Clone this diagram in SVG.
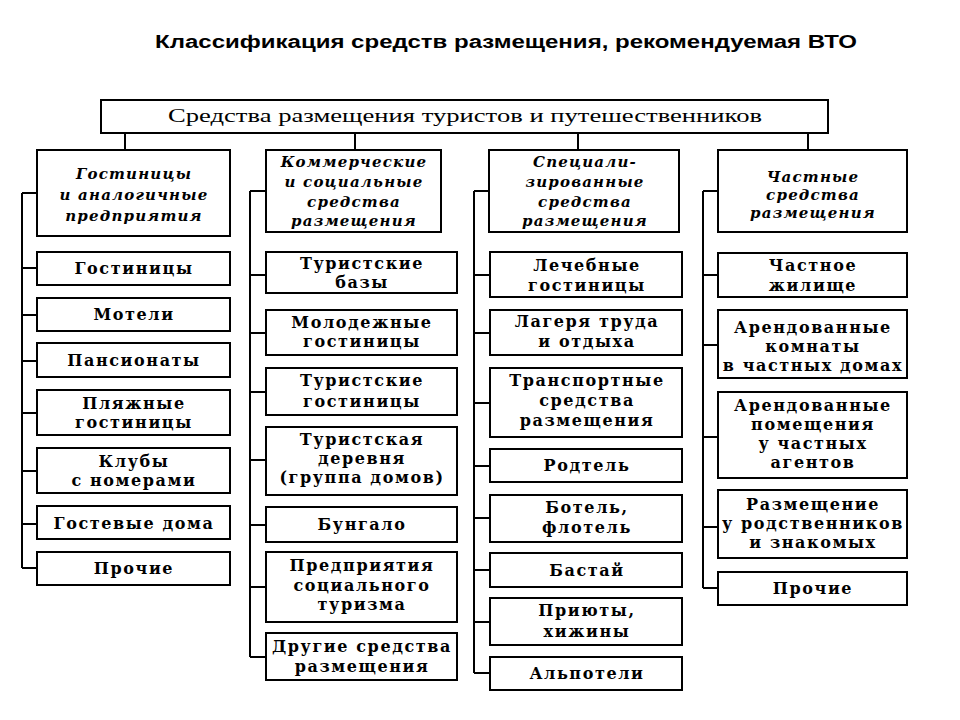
<svg xmlns="http://www.w3.org/2000/svg" width="960" height="720" viewBox="0 0 960 720">
<style>
.bx{fill:#fff;stroke:#000;stroke-width:2}
.ln{stroke:#000;stroke-width:2;fill:none}
.ttl{font-family:"Liberation Sans",Arial,sans-serif;font-weight:bold;font-size:18px;fill:#000}
.top{font-family:"Liberation Serif","Times New Roman",serif;font-size:18px;fill:#000;text-anchor:middle}
.cat{font-family:"DejaVu Serif",serif;font-style:italic;font-weight:bold;font-size:15px;letter-spacing:1.2px;fill:#000;text-anchor:middle}
.it{font-family:"DejaVu Serif",serif;font-weight:bold;font-size:16px;letter-spacing:1.6px;fill:#000;text-anchor:middle}
</style>
<rect width="960" height="720" fill="#fff"/>
<text class="ttl" x="155" y="48" textLength="702" lengthAdjust="spacingAndGlyphs">Классификация средств размещения, рекомендуемая ВТО</text>

<g id="connectors">
<path class="ln" d="M125 133V150M355 133V150M578 133V150M808 133V150"/>
<path class="ln" d="M22 193V568M22 193H37M22 268H37M22 315H37M22 361H37M22 413H37M22 471H37M22 524H37M22 568H37"/>
<path class="ln" d="M250 191V657M250 191H266M250 275H266M250 333H266M250 392H266M250 460H266M250 525H266M250 587H266M250 657H266"/>
<path class="ln" d="M474 191V673M474 191H489M474 275H490M474 333H490M474 403H490M474 466H490M474 518H490M474 570H490M474 622H490M474 673H490"/>
<path class="ln" d="M703 191V588M703 191H718M703 275H718M703 345H718M703 437H718M703 527H718M703 588H718"/>
</g>

<g id="root"><rect class="bx" x="101" y="100" width="727" height="33"/><text class="top" x="465" y="122" textLength="594" lengthAdjust="spacingAndGlyphs">Средства размещения туристов и путешественников</text></g>

<g id="cat1"><rect class="bx" x="37" y="150" width="193" height="86"/><text class="cat"><tspan x="134" y="179">Гостиницы</tspan><tspan x="134" y="200">и аналогичные</tspan><tspan x="134" y="221">предприятия</tspan></text></g>
<g id="cat2"><rect class="bx" x="266" y="150" width="175" height="82"/><text class="cat"><tspan x="354" y="167">Коммерческие</tspan><tspan x="354" y="187">и социальные</tspan><tspan x="354" y="207">средства</tspan><tspan x="354" y="226">размещения</tspan></text></g>
<g id="cat3"><rect class="bx" x="489" y="150" width="190" height="82"/><text class="cat"><tspan x="585" y="167">Специали-</tspan><tspan x="585" y="187">зированные</tspan><tspan x="585" y="207">средства</tspan><tspan x="585" y="226">размещения</tspan></text></g>
<g id="cat4"><rect class="bx" x="718" y="150" width="189" height="82"/><text class="cat"><tspan x="813" y="182">Частные</tspan><tspan x="813" y="200">средства</tspan><tspan x="813" y="218">размещения</tspan></text></g>

<g id="c1n1"><rect class="bx" x="37" y="252" width="193" height="33"/><text class="it" x="134" y="274">Гостиницы</text></g>
<g id="c1n2"><rect class="bx" x="37" y="298" width="193" height="33"/><text class="it" x="134" y="320">Мотели</text></g>
<g id="c1n3"><rect class="bx" x="37" y="343" width="193" height="34"/><text class="it" x="134" y="366">Пансионаты</text></g>
<g id="c1n4"><rect class="bx" x="37" y="390" width="193" height="45"/><text class="it"><tspan x="134" y="409">Пляжные</tspan><tspan x="134" y="428">гостиницы</tspan></text></g>
<g id="c1n5"><rect class="bx" x="37" y="448" width="193" height="45"/><text class="it"><tspan x="134" y="467">Клубы</tspan><tspan x="134" y="486">с номерами</tspan></text></g>
<g id="c1n6"><rect class="bx" x="37" y="506" width="193" height="33"/><text class="it" x="134" y="529">Гостевые дома</text></g>
<g id="c1n7"><rect class="bx" x="37" y="552" width="193" height="33"/><text class="it" x="134" y="574">Прочие</text></g>

<g id="c2n1"><rect class="bx" x="266" y="252" width="191" height="41"/><text class="it"><tspan x="362" y="269">Туристские</tspan><tspan x="362" y="288">базы</tspan></text></g>
<g id="c2n2"><rect class="bx" x="266" y="310" width="191" height="45"/><text class="it"><tspan x="362" y="328">Молодежные</tspan><tspan x="362" y="347">гостиницы</tspan></text></g>
<g id="c2n3"><rect class="bx" x="266" y="368" width="191" height="47"/><text class="it"><tspan x="362" y="386">Туристские</tspan><tspan x="362" y="407">гостиницы</tspan></text></g>
<g id="c2n4"><rect class="bx" x="266" y="427" width="191" height="68"/><text class="it"><tspan x="362" y="445">Туристская</tspan><tspan x="362" y="464">деревня</tspan><tspan x="362" y="483">(группа домов)</tspan></text></g>
<g id="c2n5"><rect class="bx" x="266" y="507" width="191" height="35"/><text class="it" x="362" y="530">Бунгало</text></g>
<g id="c2n6"><rect class="bx" x="266" y="552" width="191" height="70"/><text class="it"><tspan x="362" y="571">Предприятия</tspan><tspan x="362" y="591">социального</tspan><tspan x="362" y="610">туризма</tspan></text></g>
<g id="c2n7"><rect class="bx" x="266" y="633" width="191" height="47"/><text class="it"><tspan x="362" y="652">Другие средства</tspan><tspan x="362" y="672">размещения</tspan></text></g>

<g id="c3n1"><rect class="bx" x="490" y="252" width="192" height="45"/><text class="it"><tspan x="587" y="271">Лечебные</tspan><tspan x="587" y="291">гостиницы</tspan></text></g>
<g id="c3n2"><rect class="bx" x="490" y="310" width="192" height="45"/><text class="it"><tspan x="587" y="327">Лагеря труда</tspan><tspan x="587" y="347">и отдыха</tspan></text></g>
<g id="c3n3"><rect class="bx" x="490" y="368" width="192" height="69"/><text class="it"><tspan x="587" y="386">Транспортные</tspan><tspan x="587" y="406">средства</tspan><tspan x="587" y="426">размещения</tspan></text></g>
<g id="c3n4"><rect class="bx" x="490" y="449" width="192" height="33"/><text class="it" x="587" y="471">Родтель</text></g>
<g id="c3n5"><rect class="bx" x="490" y="495" width="192" height="47"/><text class="it"><tspan x="587" y="513">Ботель,</tspan><tspan x="587" y="533">флотель</tspan></text></g>
<g id="c3n6"><rect class="bx" x="490" y="553" width="192" height="34"/><text class="it" x="587" y="576">Бастай</text></g>
<g id="c3n7"><rect class="bx" x="490" y="598" width="192" height="47"/><text class="it"><tspan x="587" y="616">Приюты,</tspan><tspan x="587" y="637">хижины</tspan></text></g>
<g id="c3n8"><rect class="bx" x="490" y="657" width="192" height="33"/><text class="it" x="587" y="679">Альпотели</text></g>

<g id="c4n1"><rect class="bx" x="718" y="253" width="189" height="44"/><text class="it"><tspan x="813" y="271">Частное</tspan><tspan x="813" y="291">жилище</tspan></text></g>
<g id="c4n2"><rect class="bx" x="718" y="310" width="189" height="68"/><text class="it"><tspan x="813" y="333">Арендованные</tspan><tspan x="813" y="352">комнаты</tspan><tspan x="813" y="371">в частных домах</tspan></text></g>
<g id="c4n3"><rect class="bx" x="718" y="392" width="189" height="86"/><text class="it"><tspan x="813" y="411">Арендованные</tspan><tspan x="813" y="430">помещения</tspan><tspan x="813" y="449">у частных</tspan><tspan x="813" y="468">агентов</tspan></text></g>
<g id="c4n4"><rect class="bx" x="718" y="490" width="189" height="68"/><text class="it"><tspan x="813" y="510">Размещение</tspan><tspan x="813" y="529">у родственников</tspan><tspan x="813" y="548">и знакомых</tspan></text></g>
<g id="c4n5"><rect class="bx" x="718" y="572" width="189" height="33"/><text class="it" x="813" y="594">Прочие</text></g>
</svg>
